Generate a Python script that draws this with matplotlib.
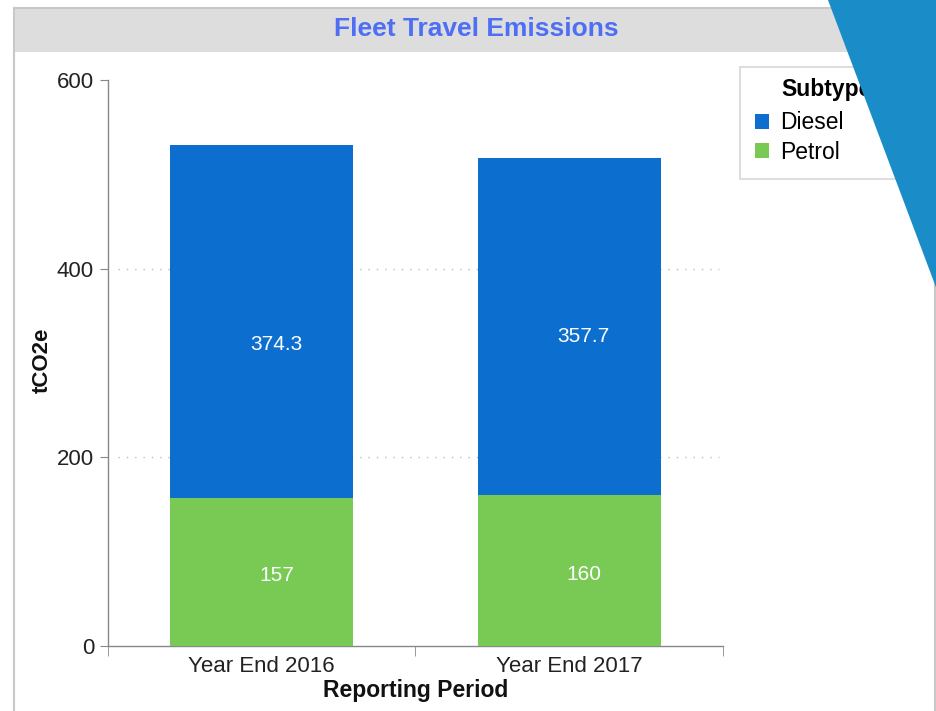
import matplotlib
matplotlib.use("Agg")
import matplotlib.pyplot as plt
from matplotlib.patches import Rectangle, Polygon
import numpy as np

categories = ["Year End 2016", "Year End 2017"]
petrol = [157, 160]
diesel = [374.3, 357.7]
series_names = ["Diesel", "Petrol"]
yticks = [0, 200, 400, 600]

C_DIESEL = "#0c6ecf"
C_PETROL = "#79c955"
W, H = 937, 711

plt.rcParams["font.family"] = ["Liberation Sans", "DejaVu Sans"]
fig = plt.figure(figsize=(W / 100, H / 100), dpi=100)

def fx(px):
    return px / W

def fy(py):
    return 1 - py / H

# outer frame and title bar
fig.patches.append(Rectangle((fx(14), fy(720)), fx(935) - fx(14), fy(8) - fy(720),
                             transform=fig.transFigure, facecolor="white",
                             edgecolor="#c8c8c8", lw=1.5, zorder=-3))
fig.patches.append(Rectangle((fx(15), fy(52)), fx(935) - fx(15), fy(9) - fy(52),
                             transform=fig.transFigure, facecolor="#dddddd",
                             edgecolor="none", zorder=-2))
fig.text(fx(476), fy(29), "Fleet Travel Emissions", ha="center", va="center",
         fontsize=19, fontweight="bold", color="#4d6ef5")

ax = fig.add_axes([fx(108), fy(646), fx(723) - fx(108), fy(80) - fy(646)])
ax.patch.set_alpha(0)
x = np.arange(len(categories))
bw = 0.595
ax.bar(x, petrol, bw, color=C_PETROL, label=series_names[1], zorder=3)
ax.bar(x, diesel, bw, bottom=petrol, color=C_DIESEL, label=series_names[0], zorder=3)

for i in range(len(categories)):
    ax.annotate(f"{petrol[i]:g}", (x[i], petrol[i] / 2), xytext=(10.5, -2.5),
                textcoords="offset points", ha="center", va="center",
                color="white", fontsize=15, zorder=4)
    ax.annotate(f"{diesel[i]:g}", (x[i], petrol[i] + diesel[i] / 2),
                xytext=(10.5, -17 if i == 0 else -7.5), textcoords="offset points",
                ha="center", va="center", color="white", fontsize=15, zorder=4)

ax.set_xlim(-0.5, len(categories) - 0.5)
ax.set_ylim(0, 600)
ax.set_yticks(yticks)
ax.set_xticks(x)
ax.set_xticklabels(categories)
ax.set_xticks(np.arange(-0.5, len(categories), 1.0), minor=True)
ax.tick_params(axis="x", which="major", length=0, pad=7.5, labelsize=16, labelcolor="#222222")
ax.tick_params(axis="x", which="minor", length=7, color="#888888")
ax.tick_params(axis="y", length=6, color="#888888", labelsize=16, labelcolor="#222222", pad=4)

for y in yticks[1:-1]:
    ax.plot([-0.467, 1.487], [y, y], ls=(0, (1, 5)), color="#bbbbbb", lw=1, zorder=1)

for s in ["top", "right"]:
    ax.spines[s].set_visible(False)
for s in ["left", "bottom"]:
    ax.spines[s].set_color("#888888")
    ax.spines[s].set_linewidth(1)

ax.set_ylabel("tCO2e", fontsize=16, fontweight="bold", color="#111111")
ax.yaxis.label.set_va("center")
ax.yaxis.set_label_coords((42 - 108) / 615, (646 - 360) / 566)
ax.set_xlabel("Reporting Period", fontsize=16.5, fontweight="bold", color="#111111", labelpad=1)

handles, labels = ax.get_legend_handles_labels()
leg = fig.legend(handles[::-1], labels[::-1], title="Subtype",
                 loc="upper left",
                 bbox_to_anchor=(fx(740), fy(180), fx(905) - fx(740), fy(67) - fy(180)),
                 mode="expand", frameon=True, fancybox=False, edgecolor="#cccccc",
                 fontsize=16.5, title_fontproperties={"weight": "bold", "size": 16.5},
                 handlelength=0.6, handleheight=0.6, handletextpad=0.5,
                 borderpad=0.65, labelspacing=0.28, borderaxespad=0)
leg._legend_box.align = "left"
leg.get_title().set_position((26, 3.5))
leg.get_frame().set_linewidth(1.2)
leg.set_zorder(5)

# decorative triangle
tri = Polygon([(fx(828), fy(0)), (fx(940), fy(0)), (fx(940), fy(298))],
              closed=True, transform=fig.transFigure, facecolor="#1a8cc8",
              edgecolor="none", zorder=10)
fig.artists.append(tri)

fig.savefig("out.png", dpi=100)
